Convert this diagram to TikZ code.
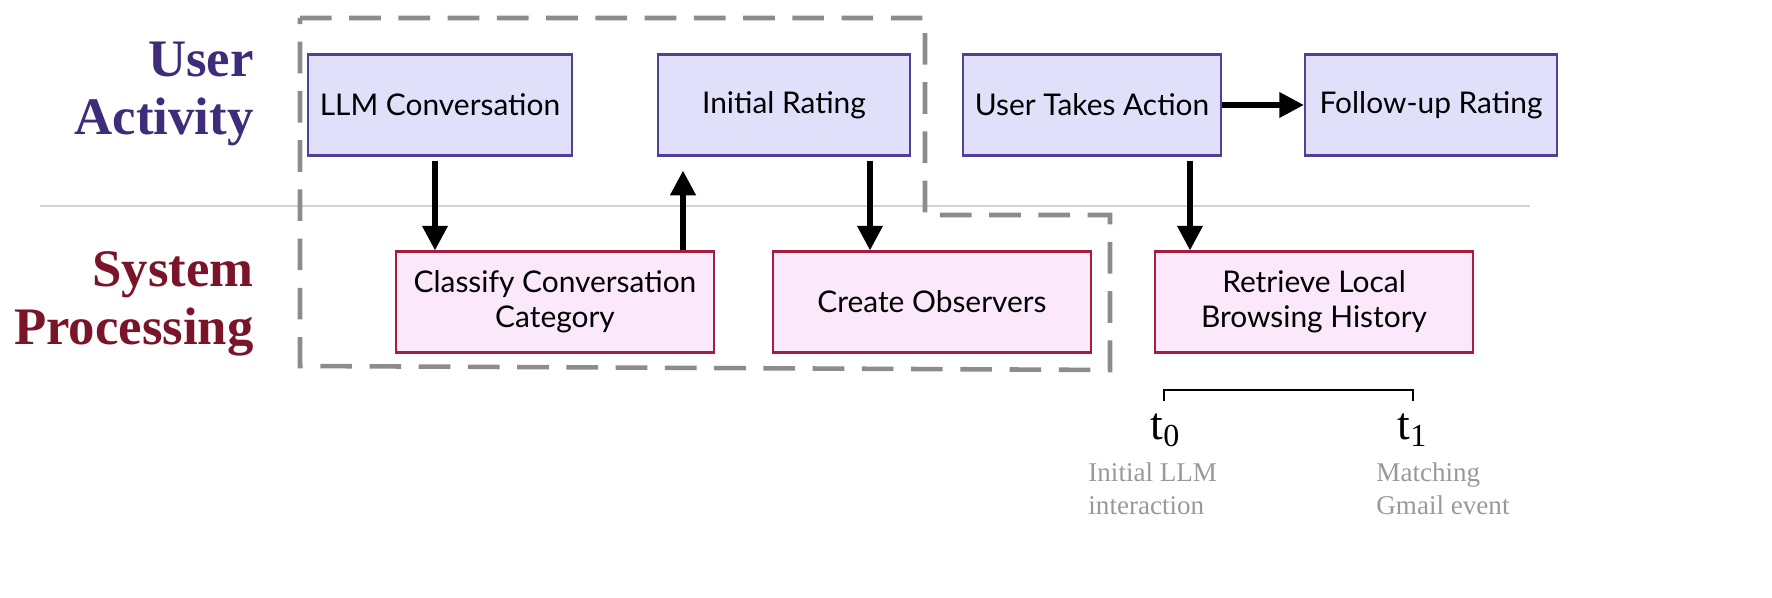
\documentclass[tikz,border=0pt]{standalone}
\usepackage{fontspec}
\setmainfont{Liberation Serif}
\setsansfont{Lato}
\usetikzlibrary{arrows.meta,positioning}
\definecolor{userfill}{RGB}{224,224,250}
\definecolor{userdraw}{RGB}{80,64,150}
\definecolor{sysfill}{RGB}{252,232,251}
\definecolor{sysdraw}{RGB}{165,30,60}
\definecolor{usertitle}{RGB}{62,44,122}
\definecolor{systitle}{RGB}{122,20,40}
\tikzset{
  % base box
  box/.style={
    draw,
    line width=0.6pt,
    minimum width=2.52cm,
    minimum height=1.01cm,
    align=center,
    font=\fontsize{8.5}{10}\selectfont\sffamily
  },
  % user box
  userbox/.style={box, fill=userfill, draw=userdraw},
  % system box
  sysbox/.style={box, fill=sysfill, draw=sysdraw, minimum width=3.18cm},
  % titles
  lane/.style={font=\fontsize{15}{16.5}\selectfont\bfseries, align=right, anchor=east},
  % arrows
  arr/.style={-{Triangle[length=7pt,width=7pt]}, line width=1.5pt},
  note/.style={font=\fontsize{7.7}{9.5}\selectfont, text=gray!80, align=left},
}
\begin{document}
\begin{tikzpicture}[x=0.01cm,y=-0.01cm]
        \useasboundingbox (0,0) rectangle (1772,598);
        % Lane titles
        \node[lane, text=usertitle] (ua) at (266,94) {User\\Activity};
        \node[lane, text=systitle] (sp) at (266,304) {System\\Processing};
        \draw[gray!35, line width=0.6pt] (40,206) -- (1530,206);

        % Dashed group
        \draw[gray!90, dashed, dash pattern=on 9pt off 5pt, line width=1.3pt]
          (300,18) -- (925,18) -- (925,215) -- (1110,215) -- (1110,370) -- (300,366) -- cycle;

        % User activity
        \node[userbox] (conv) at (440,105) {LLM Conversation};
        \node[userbox] (rate) at (784,105) {Initial Rating};
        \node[userbox] (act) at (1092,105) {User Takes Action};
        \node[userbox] (follow) at (1431,105) {Follow-up Rating};

        % System processing
        \node[sysbox] (classify) at (555,302) {Classify Conversation\\Category};
        \node[sysbox] (observ) at (932,302) {Create Observers};
        \node[sysbox] (history) at (1314,302) {Retrieve Local\\Browsing History};

        % Arrows
        \draw[arr] (conv.south -| 435,0) ++(0,4) -- (classify.north -| 435,0);
        \draw[arr] (classify.north -| 683,0) -- ([yshift=-4pt]rate.south -| 683,0);
        \draw[arr] (rate.south -| 870,0) ++(0,4) -- (observ.north -| 870,0);
        \draw[arr] (act.south -| 1190,0) ++(0,4) -- (history.north -| 1190,0);
        \draw[arr] (act) -- (follow);

        % Timeline
        \coordinate (ta) at (1164,390);
        \coordinate (tb) at (1413,390);
        \draw[line width=0.7pt] ([yshift=-3pt]ta) -- (ta) -- (tb) -- ([yshift=-3pt]tb);
        \node[font=\fontsize{13}{13}\selectfont] (t0) at (1166,430) {t\textsubscript{0}};
        \node[font=\fontsize{13}{13}\selectfont] (t1) at (1413,430) {t\textsubscript{1}};
        \node[note, anchor=north west] (n0) at (1076,450) {Initial LLM\\interaction};
        \node[note, anchor=north west] (n1) at (1364,450) {Matching\\Gmail event};
    \end{tikzpicture}
\end{document}
